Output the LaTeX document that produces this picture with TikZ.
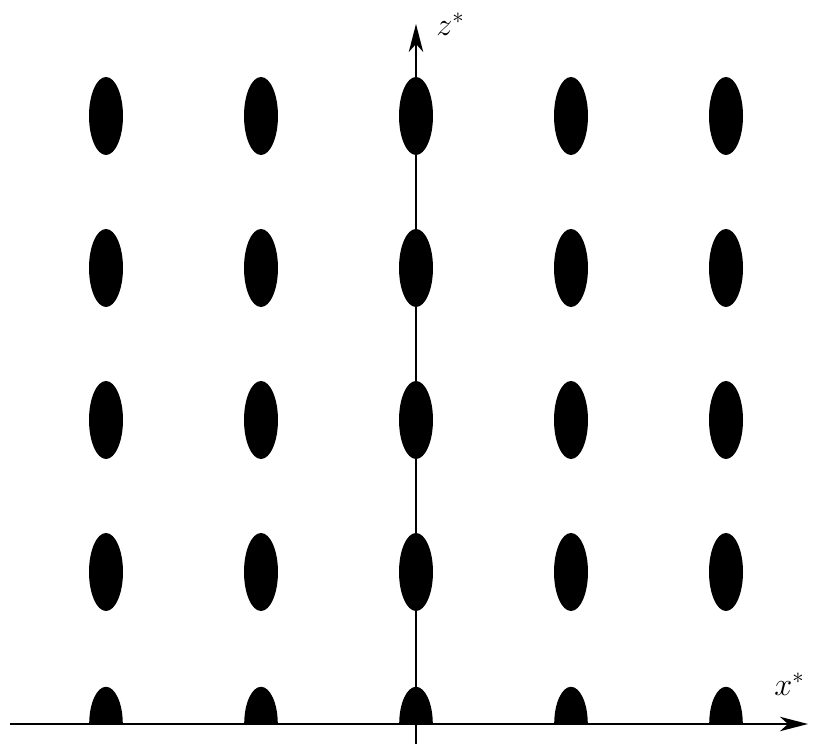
\RequirePackage{fix-cm}
\documentclass[tikz,border=0pt]{standalone}
\usepackage{tikz}
\usetikzlibrary{arrows.meta, positioning}

\begin{document}
\begin{tikzpicture}[
    axisline/.style={line width=1.3pt, -{Stealth[length=0.7cm, width=0.36cm, inset=0.2cm]}},
    spot/.style={fill=black},
    axislabel/.style={inner sep=0pt, font=\fontsize{23}{26}\selectfont},
  ]
    \useasboundingbox (-10.4,-0.5) rectangle (9.925,18.1);
    % lattice of spots
    \foreach \i in {-2,...,2} {
      \foreach \k in {1,...,4} {
        \fill[spot] (3.875*\i,3.8*\k) ellipse (0.425cm and 0.975cm);
      }
      \fill[spot] (3.875*\i-0.42,0) arc (180:0:0.42cm and 0.93cm) -- cycle;
    }
    % axes
    \coordinate (xstart) at (-10.15,0);
    \coordinate (xend) at (9.8,0);
    \coordinate (zstart) at (0,-0.5);
    \coordinate (zend) at (0,17.5);
    \draw[axisline] (xstart) -- (xend);
    \draw[axisline] (zstart) -- (zend);
    \node[axislabel, anchor=base west] (xlabel) at (8.95,0.72) {$x^{*}$};
    \node[axislabel, anchor=base west] (zlabel) at (0.5,17.22) {$z^{*}$};
  \end{tikzpicture}
\end{document}
